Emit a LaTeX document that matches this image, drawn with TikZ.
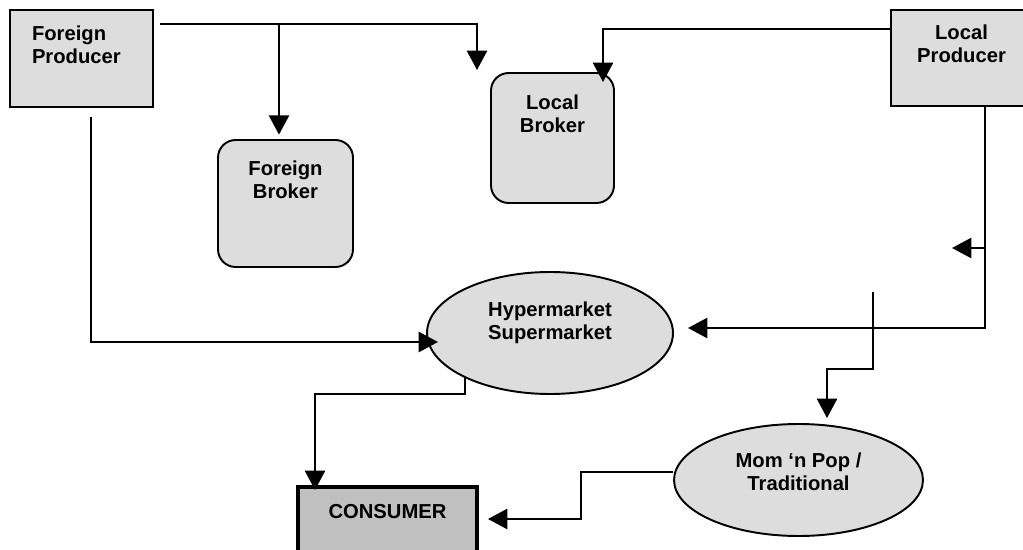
\documentclass[tikz,border=0pt]{standalone}
\usepackage{fontspec}
\setmainfont{Liberation Sans}
\usetikzlibrary{arrows.meta,shapes.geometric}
\definecolor{boxgray}{HTML}{DDDDDD}
\definecolor{consgray}{HTML}{C0C0C0}
\tikzset{>={Triangle[length=11pt,width=11.5pt]},
  every node/.style={font=\fontsize{11.5}{13.2}\selectfont\bfseries},
  prodbox/.style={draw,fill=boxgray,rectangle,inner sep=0pt},
  brokerbox/.style={prodbox,rounded corners=10pt},
  outlet/.style={draw,fill=boxgray,ellipse,inner sep=0pt},
  consbox/.style={draw,fill=consgray,line width=1.9pt,inner sep=0pt},
  caption/.style={inner sep=0pt,align=center,anchor=north},
  flow/.style={->}}

\begin{document}
\begin{tikzpicture}[x=0.02cm,y=-0.02cm,line width=1.1pt]
\path[use as bounding box] (0,0) rectangle (1023,550);
% producers and brokers
\node[prodbox,minimum width=2.86cm,minimum height=1.94cm,
  label={[caption,name=fptxt,anchor=north west,align=left,xshift=0.44cm,yshift=-0.32cm]north west:{Foreign\\Producer}}] (fp) at (81.5,58.5) {};
\node[prodbox,minimum width=2.82cm,minimum height=1.92cm,
  label={[caption,name=lptxt,yshift=-0.30cm]north:{Local\\Producer}}] (lp) at (961.5,58) {};
\node[brokerbox,minimum width=2.7cm,minimum height=2.54cm,
  label={[caption,name=fbtxt,yshift=-0.42cm]north:{Foreign\\Broker}}] (fb) at (285.5,203.5) {};
\node[brokerbox,minimum width=2.46cm,minimum height=2.6cm,
  label={[caption,name=lbtxt,yshift=-0.44cm]north:{Local\\Broker}}] (lb) at (552.5,138) {};
% retail outlets
\node[outlet,minimum width=4.92cm,minimum height=2.44cm,
  label={[caption,name=hmtxt,yshift=-0.6cm]north:{Hypermarket\\Supermarket}}] (hm) at (550,333) {};
\node[outlet,minimum width=4.98cm,minimum height=2.24cm,
  label={[caption,name=mptxt,yshift=-0.58cm]north:{Mom ‘n Pop /\\Traditional}}] (mp) at (798.5,480) {};
\node[consbox,minimum width=3.58cm,minimum height=1.86cm,
  label={[caption,name=cotxt,yshift=-0.36cm]north:{CONSUMER}}] (co) at (387.5,533.5) {};

% connector ends
\coordinate (fpout) at (160,24);\coordinate (fbfork) at (279,24);\coordinate (lbmiss) at (477,70);
\coordinate (lpout) at (891,29);\coordinate (lbin) at (603,82);
\coordinate (lpdrop) at (985,106);\coordinate (hmin) at (688,328);
\coordinate (lpfork) at (985,248);\coordinate (lpstub) at (952,248);
\coordinate (fpdrop) at (91,117);\coordinate (hmwest) at (438,342);
\coordinate (mpfeed) at (873,292);\coordinate (mpin) at (827,418);
\coordinate (hmout) at (465,377);\coordinate (coin) at (315,490);
\coordinate (mpout) at (673,472);\coordinate (coeast) at (488,519);

\draw[flow] (fpout) -| (lbmiss);
\draw[flow,shorten >=2.5pt] (fbfork) -- (fbfork |- fb.north);
\draw[flow] (lpout) -| (lbin);
\draw[flow] (lpdrop) |- (hmin);\draw[flow] (lpfork) -- (lpstub);
\draw[flow] (fpdrop) |- (hmwest);
\draw[flow] (mpfeed) -- ++(0,77) -| (mpin);
\draw[flow] (hmout) -- ++(0,17) -| (coin);
\draw[flow] (mpout) -- ++(-92,0) |- (coeast);
\end{tikzpicture}
\end{document}
